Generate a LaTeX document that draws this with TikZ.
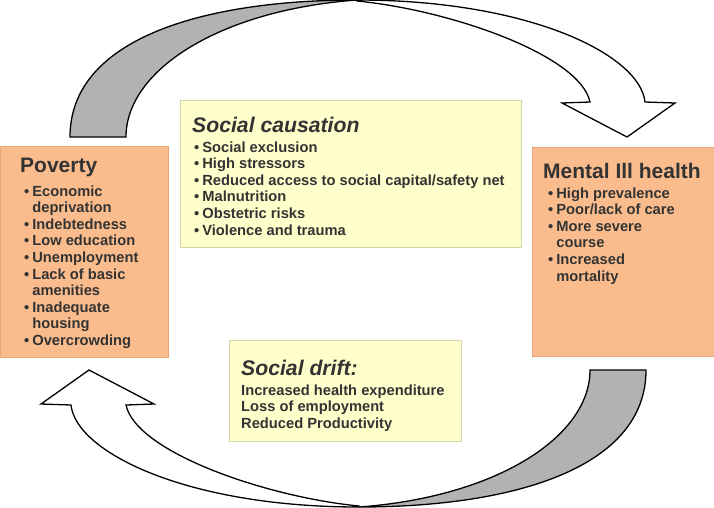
\documentclass[tikz,border=0pt]{standalone}
\usepackage{fontspec}
\setmainfont{Liberation Sans}

\definecolor{hotSalmon}{RGB}{250,188,140}
\definecolor{hotSalmonEdge}{RGB}{232,165,120}
\definecolor{noteYellow}{RGB}{255,255,204}
\definecolor{noteYellowEdge}{RGB}{212,212,172}
\definecolor{bandGray}{RGB}{178,178,178}
\definecolor{inkGray}{RGB}{51,51,51}

\def\loopCx{358}
\def\loopCy{253.5}

\tikzset{
    box/.style = {rectangle, inner sep = 0pt, anchor = north west},
    hotbox/.style = {box, fill = hotSalmon, draw = hotSalmonEdge, line width = 0.6pt},
    notebox/.style = {box, fill = noteYellow, draw = noteYellowEdge, line width = 0.8pt},
    headtext/.style = {anchor = base west, inner sep = 0pt, text = inkGray,
        font = \fontsize{21}{24}\selectfont\bfseries},
    notehead/.style = {headtext, font = \fontsize{21.2}{24}\selectfont\bfseries\itshape},
    listtext/.style = {anchor = base west, inner sep = 0pt, text = inkGray,
        font = \fontsize{14.7}{16.6}\selectfont\bfseries},
    bandline/.style = {draw = black, line width = 1.3pt, line join = miter},
}

\begin{document}
\begin{tikzpicture}[x = 1pt, y = -1pt]
            \useasboundingbox (0,0) rectangle (714,507);
            %% curved arrows, the lower one is the upper one turned round
            \foreach \turn in {0,180} {
                \begin{scope}[rotate around = {\turn:(\loopCx,\loopCy)}]
                    \draw [bandline, fill = bandGray]
                    (70,137) .. controls (70,40) and (200,0) .. (357,0)
                    .. controls (220,10) and (126,70) .. (126,137)
                    -- cycle
                    ;
                    \draw [bandline, fill = white]
                    (357,0) .. controls (530,0) and (640,55) .. (645,102)
                    -- (675,103)
                    -- (627,137)
                    -- (562,103)
                    -- (590,102)
                    .. controls (580,55) and (450,10) .. (357,1)
                    -- cycle
                    ;
                \end{scope}
            }
            %% boxes
            \node [hotbox, minimum width = 168pt, minimum height = 211pt]
            (poverty) at (0,146) {};
            \node [hotbox, minimum width = 182pt, minimum height = 209pt]
            (illhealth) at (532,147) {};
            \node [notebox, minimum width = 341pt, minimum height = 147pt]
            (causation) at (180,100) {};
            \node [notebox, minimum width = 232pt, minimum height = 101pt]
            (drift) at (229,340) {};
            %% poverty
            \node [headtext] (povertyhead) at (20,172) {Poverty};
            \node [listtext] (povertylist) at (24,196) {%
                \begin{tabular}[t]{@{}l@{\hspace{3pt}}l@{}}
                    • & Economic\\
                      & deprivation\\
                    • & Indebtedness\\
                    • & Low education\\
                    • & Unemployment\\
                    • & Lack of basic\\
                      & amenities\\
                    • & Inadequate\\
                      & housing\\
                    • & Overcrowding
                \end{tabular}};
            %% mental ill health
            \node [headtext] (illhealthhead) at (543,178) {Mental Ill health};
            \node [listtext] (illhealthlist) at (548,198) {%
                \begin{tabular}[t]{@{}l@{\hspace{3pt}}l@{}}
                    • & High prevalence\\
                    • & Poor/lack of care\\
                    • & More severe\\
                      & course\\
                    • & Increased\\
                      & mortality
                \end{tabular}};
            %% social causation
            \node [notehead] (causationhead) at (192,132) {Social causation};
            \node [listtext] (causationlist) at (194,152) {%
                \begin{tabular}[t]{@{}l@{\hspace{3pt}}l@{}}
                    • & Social exclusion\\
                    • & High stressors\\
                    • & Reduced access to social capital/safety net\\
                    • & Malnutrition\\
                    • & Obstetric risks\\
                    • & Violence and trauma
                \end{tabular}};
            %% social drift
            \node [notehead] (drifthead) at (241,375) {Social drift:};
            \node [listtext] (driftlist) at (241,395) {%
                \begin{tabular}[t]{@{}l@{}}
                    Increased health expenditure\\
                    Loss of employment\\
                    Reduced Productivity
                \end{tabular}};
\end{tikzpicture}
\end{document}
